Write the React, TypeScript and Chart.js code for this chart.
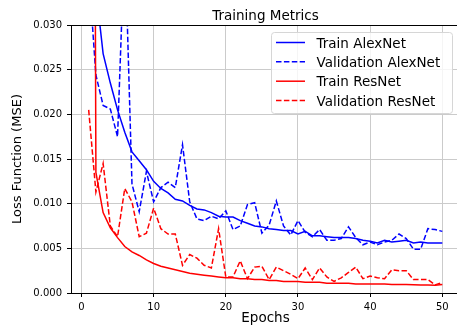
import { useEffect, useRef } from "react";
import { Chart, registerables } from "chart.js";

Chart.register(...registerables);

const epochs = [
  1, 2, 3, 4, 5, 6, 7, 8, 9, 10, 11, 12, 13, 14, 15, 16, 17, 18, 19, 20,
  21, 22, 23, 24, 25, 26, 27, 28, 29, 30, 31, 32, 33, 34, 35, 36, 37, 38, 39, 40,
  41, 42, 43, 44, 45, 46, 47, 48, 49, 50,
];

const trainAlexNet = [
  0.05, 0.034, 0.0268, 0.0235, 0.0205, 0.018, 0.0158, 0.0148, 0.0138, 0.0125,
  0.0117, 0.0112, 0.0105, 0.0103, 0.0098, 0.0094, 0.0093, 0.009, 0.0086, 0.0085,
  0.0085, 0.0081, 0.0078, 0.0075, 0.0074, 0.0072, 0.0071, 0.007, 0.007, 0.0066,
  0.0069, 0.0064, 0.0064, 0.0063, 0.0062, 0.0062, 0.0062, 0.0061, 0.0059, 0.0058,
  0.0056, 0.0059, 0.0057, 0.0058, 0.0059, 0.0056, 0.0057, 0.0056, 0.0056, 0.0056,
];

const valAlexNet = [
  0.036, 0.0244, 0.021, 0.0206, 0.0175, 0.04, 0.0122, 0.0091, 0.0136, 0.0102,
  0.0118, 0.0124, 0.0118, 0.0166, 0.0102, 0.0083, 0.0081, 0.0086, 0.0083, 0.0092,
  0.0071, 0.0075, 0.0099, 0.0101, 0.0067, 0.0076, 0.0103, 0.0075, 0.0065, 0.0081,
  0.0068, 0.0063, 0.0071, 0.0059, 0.0059, 0.0061, 0.0074, 0.0062, 0.0054, 0.0057,
  0.0054, 0.0057, 0.0059, 0.0066, 0.0061, 0.0049, 0.0049, 0.0072, 0.0071, 0.0069,
];

const trainResNet = [
  0.25, 0.0135, 0.009, 0.0073, 0.0062, 0.0052, 0.0046, 0.0042, 0.0037, 0.0033,
  0.003, 0.0028, 0.0026, 0.0024, 0.0022, 0.0021, 0.002, 0.0019, 0.0018, 0.0017,
  0.0017, 0.0016, 0.0016, 0.0015, 0.0015, 0.0014, 0.0014, 0.0013, 0.0013, 0.0013,
  0.0012, 0.0012, 0.0012, 0.0011, 0.0011, 0.0011, 0.0011, 0.001, 0.001, 0.001,
  0.001, 0.001, 0.00095, 0.00095, 0.00095, 0.00093, 0.0009, 0.0009, 0.00088, 0.00095,
];

const valResNet = [
  0.0205, 0.0113, 0.0145, 0.0075, 0.0063, 0.0117, 0.0102, 0.0063, 0.0067, 0.0095,
  0.0072, 0.0066, 0.0066, 0.0031, 0.0043, 0.0039, 0.0031, 0.0028, 0.0072, 0.0018,
  0.0018, 0.0036, 0.0016, 0.0029, 0.003, 0.0015, 0.0029, 0.0025, 0.0021, 0.0016,
  0.0028, 0.0015, 0.0028, 0.0018, 0.0013, 0.0017, 0.0023, 0.0029, 0.0016, 0.0019,
  0.0017, 0.0016, 0.0026, 0.0025, 0.0025, 0.0015, 0.0015, 0.0015, 0.0009, 0.0012,
];

const xTicks = [0, 10, 20, 30, 40, 50];
const yTicks = [0, 0.005, 0.01, 0.015, 0.02, 0.025, 0.03];

const seriesNames = ["Train AlexNet", "Validation AlexNet", "Train ResNet", "Validation ResNet"];
const seriesColors = ["#0000ff", "#0000ff", "#ff0000", "#ff0000"];
const seriesDashed = [false, true, false, true];
const seriesValues = [trainAlexNet, valAlexNet, trainResNet, valResNet];

const titleText = "Training Metrics";
const xLabel = "Epochs";
const yLabel = "Loss Function (MSE)";

const FONT = "'DejaVu Sans', sans-serif";
const DASH = [5.5, 2.4];

const decorPlugin = {
  id: "mplDecor",
  afterDatasetsDraw(chart: any) {
    const { ctx, chartArea } = chart;
    ctx.save();
    ctx.strokeStyle = "#000";
    ctx.lineWidth = 1;
    ctx.strokeRect(
      Math.round(chartArea.left) + 0.5,
      Math.round(chartArea.top) + 0.5,
      Math.round(chartArea.right - chartArea.left) - 1,
      Math.round(chartArea.bottom - chartArea.top)
    );
    ctx.restore();
  },
  afterDraw(chart: any) {
    const { ctx, chartArea } = chart;
    ctx.save();
    // title
    ctx.fillStyle = "#000";
    ctx.font = `13.5px ${FONT}`;
    ctx.textAlign = "center";
    ctx.textBaseline = "alphabetic";
    ctx.fillText(titleText, (chartArea.left + chartArea.right) / 2, chartArea.top - 5);

    // legend
    const w = 181;
    const h = 81;
    const x0 = 271.5;
    const y0 = chartArea.top + 7.5;
    const r = 3;
    ctx.beginPath();
    ctx.moveTo(x0 + r, y0);
    ctx.lineTo(x0 + w - r, y0);
    ctx.arcTo(x0 + w, y0, x0 + w, y0 + r, r);
    ctx.lineTo(x0 + w, y0 + h - r);
    ctx.arcTo(x0 + w, y0 + h, x0 + w - r, y0 + h, r);
    ctx.lineTo(x0 + r, y0 + h);
    ctx.arcTo(x0, y0 + h, x0, y0 + h - r, r);
    ctx.lineTo(x0, y0 + r);
    ctx.arcTo(x0, y0, x0 + r, y0, r);
    ctx.closePath();
    ctx.fillStyle = "rgba(255,255,255,0.8)";
    ctx.fill();
    ctx.strokeStyle = "#d6d6d6";
    ctx.lineWidth = 1;
    ctx.stroke();

    ctx.font = `13.5px ${FONT}`;
    ctx.textAlign = "left";
    ctx.textBaseline = "alphabetic";
    seriesNames.forEach((name, i) => {
      const yy = y0 + 10 + i * 19.35;
      ctx.beginPath();
      ctx.setLineDash(seriesDashed[i] ? DASH : []);
      ctx.strokeStyle = seriesColors[i];
      ctx.lineWidth = 1.5;
      ctx.moveTo(x0 + 4.5, yy);
      ctx.lineTo(x0 + 33.5, yy);
      ctx.stroke();
      ctx.setLineDash([]);
      ctx.fillStyle = "#000";
      ctx.fillText(name, x0 + 45, yy + 5);
    });
    ctx.restore();
  },
};

export default function App() {
  const ref = useRef<HTMLCanvasElement | null>(null);

  useEffect(() => {
    if (!ref.current) return;
    Chart.defaults.font.family = FONT;
    Chart.defaults.color = "#000";

    const datasets = seriesValues.map((vals, i) => ({
      label: seriesNames[i],
      data: epochs.map((e, j) => ({ x: e, y: vals[j] })),
      borderColor: seriesColors[i],
      backgroundColor: seriesColors[i],
      borderWidth: 1.5,
      borderDash: seriesDashed[i] ? DASH : [],
      pointRadius: 0,
      tension: 0,
      fill: false,
      order: seriesNames.length - i,
    }));

    const chart = new Chart(ref.current, {
      type: "line",
      data: { datasets },
      options: {
        animation: false,
        responsive: false,
        devicePixelRatio: 1,
        layout: { padding: { top: 25, right: 0, left: 0, bottom: 0 } },
        plugins: {
          legend: { display: false },
          tooltip: { enabled: false },
          title: { display: false },
        },
        scales: {
          x: {
            type: "linear",
            min: -1.45,
            max: 52.45,
            afterBuildTicks: (axis: any) => {
              axis.ticks = xTicks.map((v) => ({ value: v }));
            },
            afterFit: (axis: any) => {
              axis.height = 34;
            },
            ticks: {
              font: { size: 10, family: FONT },
              color: "#000",
              padding: 4,
              maxRotation: 0,
              autoSkip: false,
              callback: (v: any) => String(v),
            },
            grid: {
              color: "#cbcbcb",
              lineWidth: 1,
              drawTicks: true,
              tickLength: 4,
              tickColor: "#000",
              tickWidth: 1,
            },
            border: { display: false },
            title: {
              display: true,
              text: xLabel,
              font: { size: 13.5, family: FONT },
              color: "#000",
              padding: { top: 0, bottom: 0 },
            },
          },
          y: {
            type: "linear",
            min: 0,
            max: 0.03,
            afterBuildTicks: (axis: any) => {
              axis.ticks = yTicks.map((v) => ({ value: v }));
            },
            afterFit: (axis: any) => {
              axis.width = 71;
            },
            ticks: {
              font: { size: 10, family: FONT },
              color: "#000",
              padding: 5,
              autoSkip: false,
              callback: (v: any) => Number(v).toFixed(3),
            },
            grid: {
              color: "#cbcbcb",
              lineWidth: 1,
              drawTicks: true,
              tickLength: 4,
              tickColor: "#000",
              tickWidth: 1,
            },
            border: { display: false },
            title: {
              display: true,
              text: yLabel,
              font: { size: 13, family: FONT },
              color: "#000",
              padding: { top: 10, bottom: 0 },
            },
          },
        },
      },
      plugins: [decorPlugin],
    } as any);

    return () => chart.destroy();
  }, []);

  return (
    <div style={{ position: "fixed", left: 0, top: 0, width: 457, height: 327, overflow: "hidden", background: "#fff" }}>
      <canvas ref={ref} width={460} height={327} style={{ width: 460, height: 327, display: "block" }} />
    </div>
  );
}
